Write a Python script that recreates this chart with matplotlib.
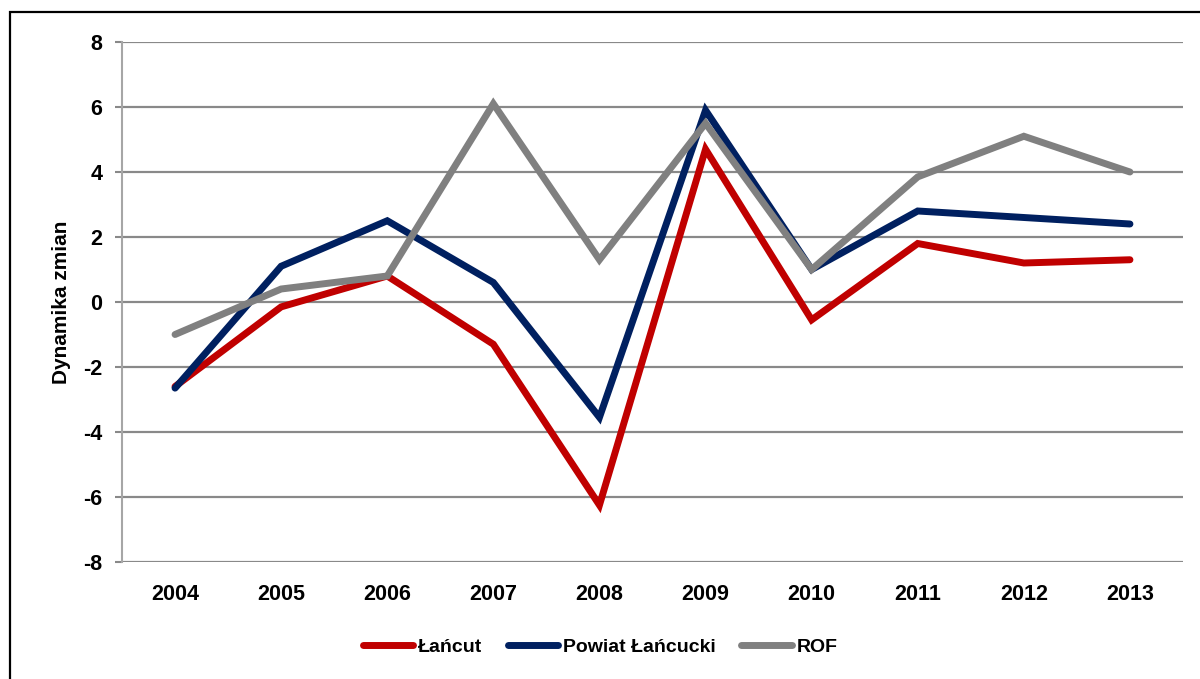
#!/usr/bin/env python3
"""
Dynamika zmian 2004-2013: Łańcut, Powiat Łańcucki, ROF
"""
import matplotlib
matplotlib.use('Agg')
import matplotlib.pyplot as plt
from matplotlib.patches import Rectangle

matplotlib.rcParams['font.family'] = ['Liberation Sans', 'DejaVu Sans']
matplotlib.rcParams['font.weight'] = 'bold'
matplotlib.rcParams['axes.unicode_minus'] = False

# dane
years = ['2004', '2005', '2006', '2007', '2008', '2009', '2010', '2011', '2012', '2013']
lancut = [-2.6, -0.15, 0.8, -1.3, -6.25, 4.7, -0.55, 1.8, 1.2, 1.3]
powiat = [-2.65, 1.1, 2.5, 0.6, -3.55, 5.9, 1.0, 2.8, 2.6, 2.4]
rof = [-1.0, 0.4, 0.8, 6.1, 1.3, 5.5, 1.0, 3.85, 5.1, 4.0]
series_names = ['Łańcut', 'Powiat Łańcucki', 'ROF']
y_ticks = [-8, -6, -4, -2, 0, 2, 4, 6, 8]

colors = ['#C00000', '#002060', '#808080']

fig = plt.figure(figsize=(12, 6.79), dpi=100)
ax = fig.add_axes([122 / 1200, 1 - 562 / 679, (1183 - 122) / 1200, (562 - 42) / 679])

x = range(len(years))
for vals, name, c in zip([lancut, powiat, rof], series_names, colors):
    ax.plot(x, vals, color=c, lw=5, label=name, solid_capstyle='round',
            solid_joinstyle='miter', zorder=3)

ax.set_xlim(-0.5, len(years) - 0.5)
ax.set_ylim(-8, 8)
ax.set_yticks(y_ticks)
ax.set_xticks(list(x))
ax.set_xticklabels(years)
ax.grid(axis='y', color='#898989', lw=1.6, zorder=0)
ax.set_axisbelow(True)

for s in ['top', 'right', 'bottom']:
    ax.spines[s].set_visible(False)
ax.spines['left'].set_color('#A6A6A6')
ax.spines['left'].set_linewidth(1.5)

ax.tick_params(axis='y', length=5, width=1.5, color='#898989', pad=9, labelsize=15.5)
ax.tick_params(axis='x', length=0, pad=16, labelsize=15.5)
for lbl in ax.get_xticklabels() + ax.get_yticklabels():
    lbl.set_fontweight('bold')

ax.set_ylabel('Dynamika zmian', fontsize=15, fontweight='bold', labelpad=9)

fig.legend(loc='center', bbox_to_anchor=(0.5, 1 - 647 / 679), ncol=3, frameon=False,
           handlelength=2.6, handletextpad=0.25, columnspacing=1.3,
           prop={'weight': 'bold', 'size': 14})

# ramka wokół wykresu
fig.patches.append(Rectangle((10 / 1200, -0.1), 1.2, 1 - 12 / 679 + 0.1,
                             transform=fig.transFigure, fill=False,
                             edgecolor='black', lw=1.6, zorder=10))

plt.savefig('out.png', dpi=100)
